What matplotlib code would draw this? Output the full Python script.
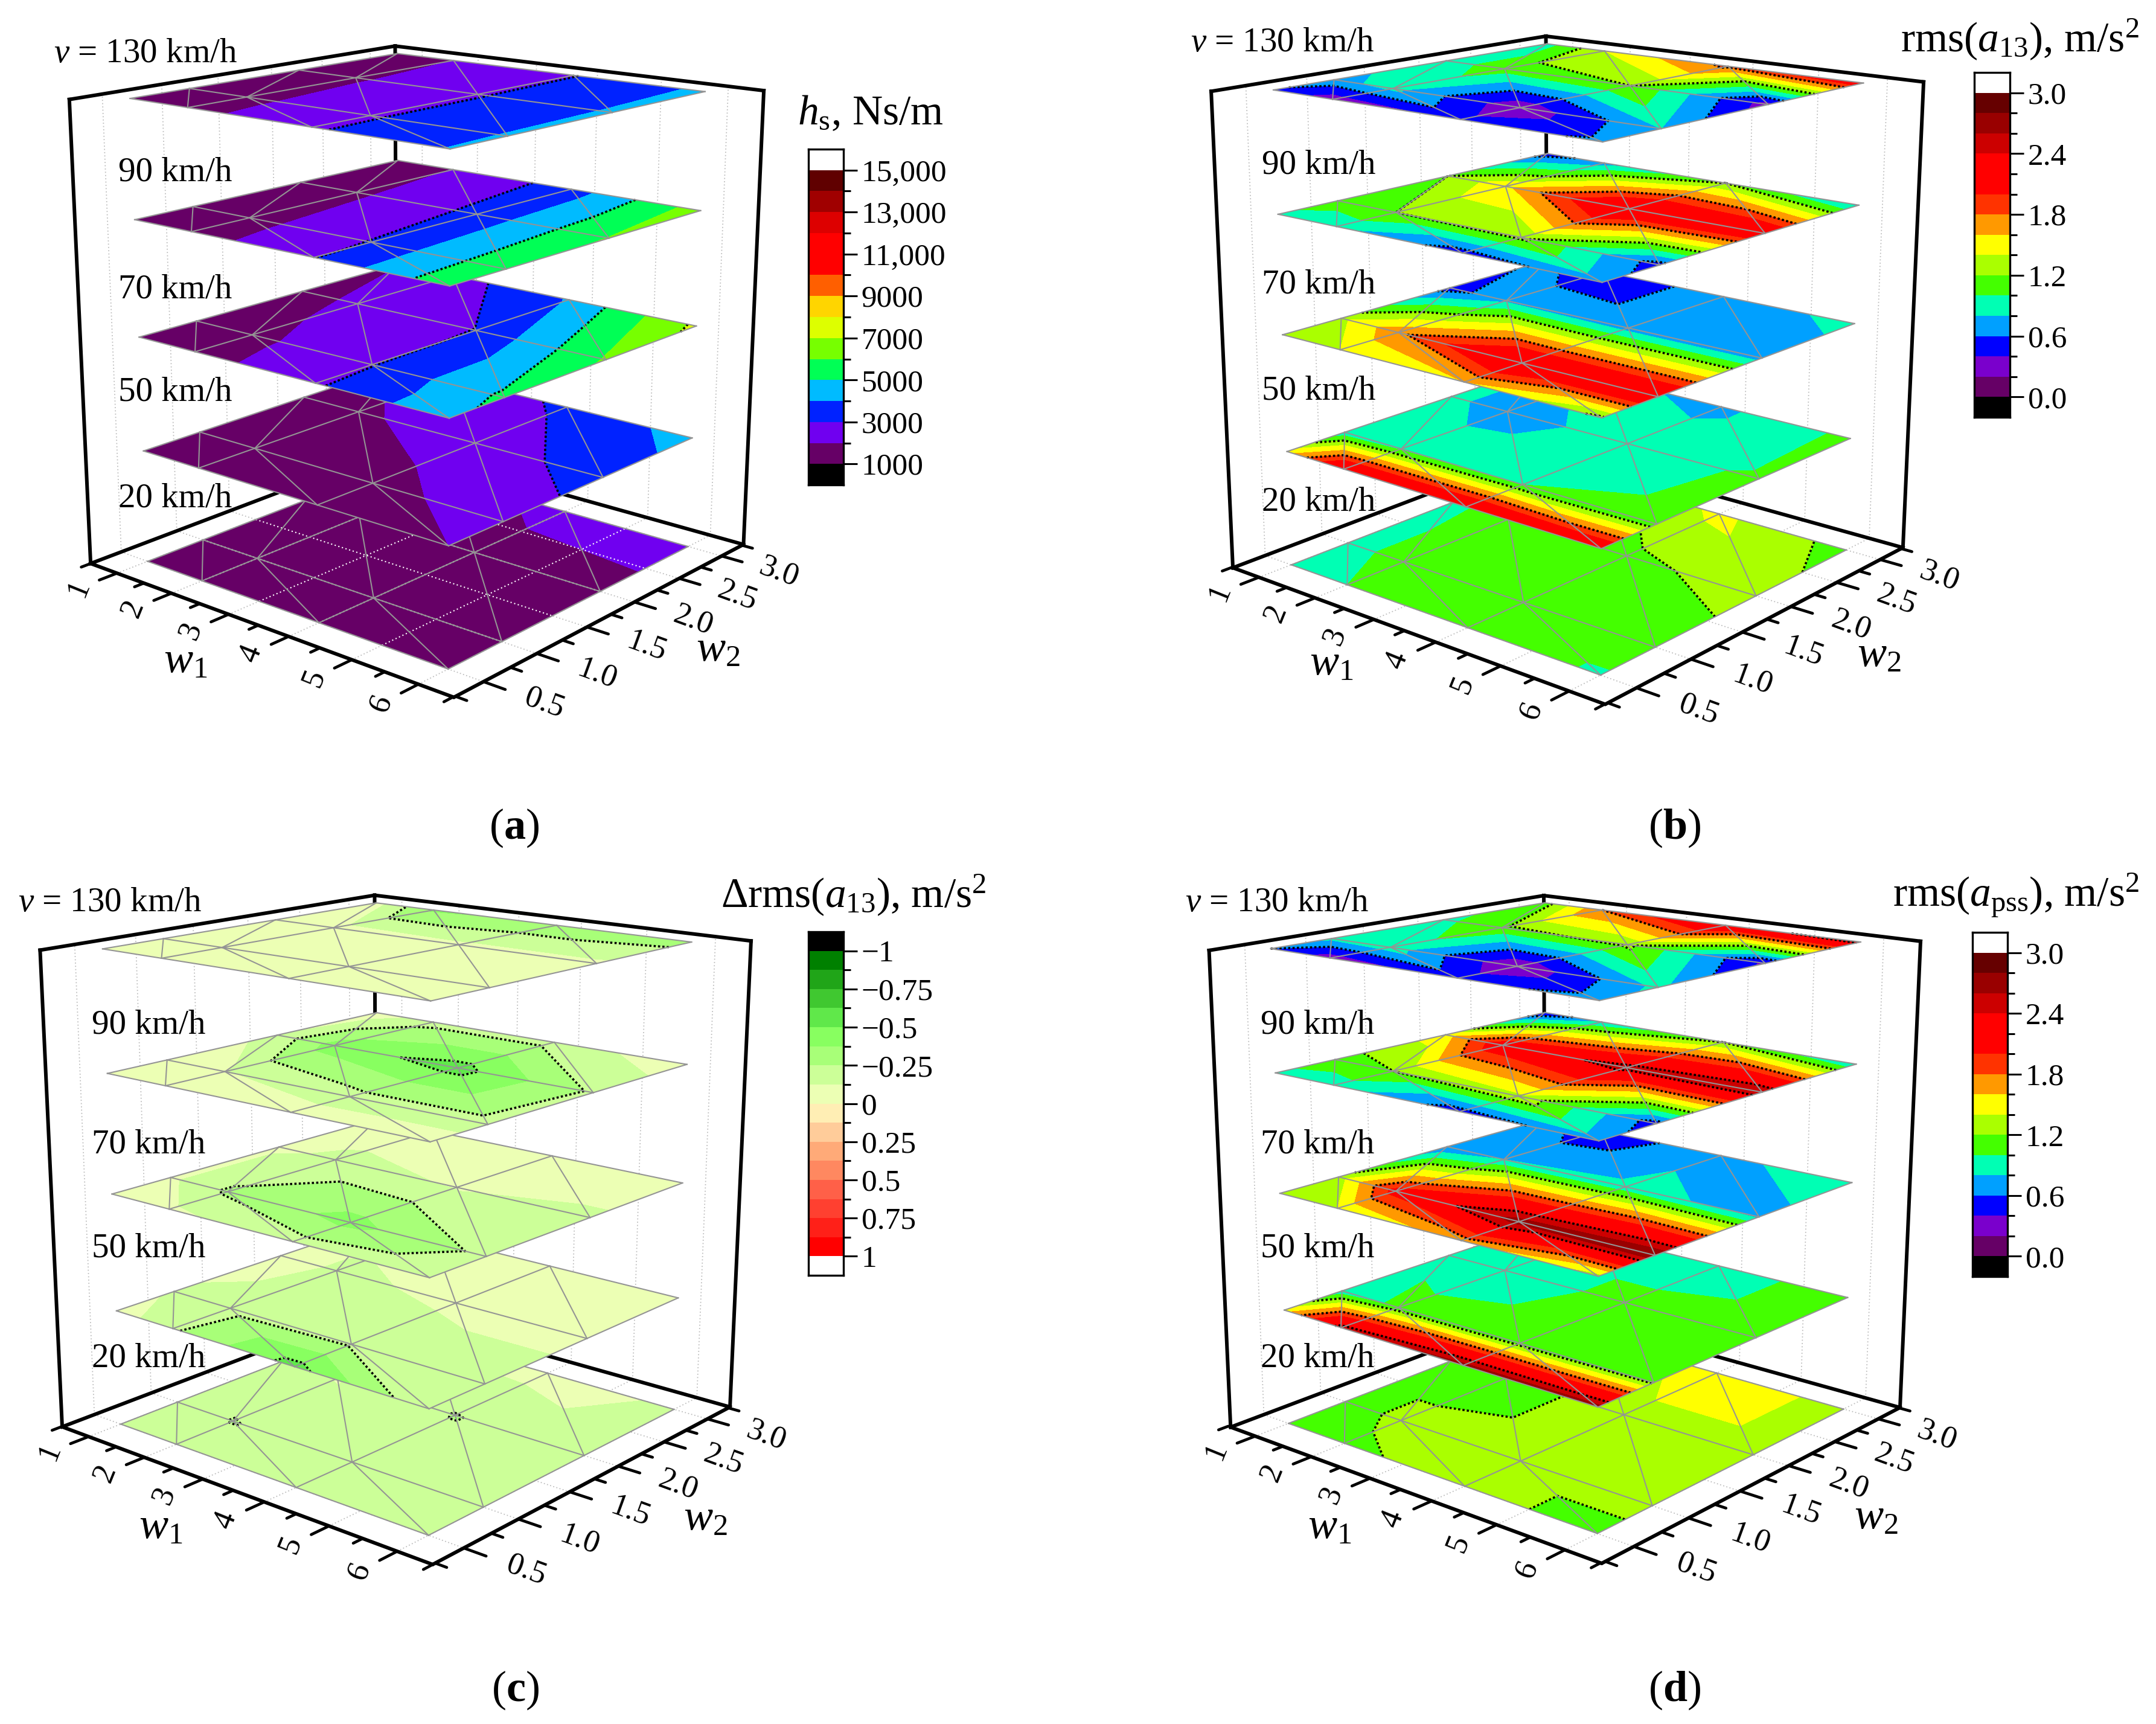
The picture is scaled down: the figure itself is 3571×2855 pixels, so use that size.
import numpy as np
import matplotlib
matplotlib.use('Agg')
import matplotlib.pyplot as plt
import matplotlib.tri as mtri
from matplotlib.colors import ListedColormap, BoundaryNorm
from mpl_toolkits.mplot3d import proj3d

plt.rcParams['font.family'] = 'Liberation Serif'
plt.rcParams['mathtext.fontset'] = 'custom'
plt.rcParams['mathtext.rm'] = 'Liberation Serif'
plt.rcParams['mathtext.it'] = 'Liberation Serif:italic'
plt.rcParams['mathtext.bf'] = 'Liberation Serif:bold'

W, H = 3571, 2855

w1_nodes = [1, 2, 4, 6]
w2_nodes = [0.5, 1, 2, 3]
speeds = ['20 km/h', '50 km/h', '70 km/h', '90 km/h', '$v$ = 130 km/h']
w1_ticks = [1, 2, 3, 4, 5, 6]
w1_minor = [0.5, 1.5, 2.5, 3.5, 4.5, 5.5, 6.5]
w2_ticks = [0.5, 1.0, 1.5, 2.0, 2.5, 3.0]
w2_minor = [0.25, 0.75, 1.25, 1.75, 2.25, 2.75, 3.25]

# rows are w1 = 1, 2, 4, 6, columns are w2 = 0.5, 1, 2, 3
hs_20 = [[1050, 1100, 1300, 1500], [1050, 1100, 1300, 1600], [1100, 1200, 1600, 2300], [1100, 1200, 1700, 2400]]
hs_50 = [[1100, 1150, 1500, 2300], [1200, 1300, 1850, 2400], [1450, 1650, 2500, 3150], [2000, 2500, 3400, 4400]]
hs_70 = [[1100, 1200, 1400, 1950], [1500, 1700, 2300, 2500], [2850, 2950, 3020, 4080], [4800, 5200, 6100, 7200]]
hs_90 = [[1200, 1200, 1300, 1400], [1450, 1600, 1800, 2020], [2950, 3050, 3250, 3450], [5700, 5800, 6050, 6500]]
hs_130 = [[1100, 1100, 1100, 1100], [1600, 1700, 1850, 2000], [2850, 2880, 2900, 2950], [4050, 4080, 4120, 4200]]

a13_20 = [[.95, .95, .95, 1.05], [1.0, 1.05, 1.1, 1.1], [1.1, 1.1, 1.15, 1.45], [.98, 1.09, 1.28, 1.12]]
a13_50 = [[1.5, .85, .85, .85], [2.35, .95, .7, .85], [2.38, 1.0, .9, .75], [2.3, 1.05, 1.03, 1.05]]
a13_70 = [[1.3, 1.35, .5, .65], [1.4, 1.75, .75, .45], [1.6, 2.4, .7, .7], [1.15, 2.4, .7, .85]]
a13_90 = [[.95, 1.1, 1.2, .5], [.85, 1.2, 1.55, .7], [.5, 1.25, 2.4, 1.2], [.7, .5, 2.3, .75]]
a13_130 = [[.55, .75, .9, .9], [.28, .85, 1.1, 1.4], [.45, .25, 1.2, 1.85], [.65, .8, .3, 2.2]]

da13_20 = [[-.18, -.18, -.17, -.15], [-.18, -.255, -.12, -.1], [-.18, -.18, -.255, -.08], [-.18, -.18, -.18, -.14]]
da13_50 = [[-.05, -.15, -.05, -.05], [-.23, -.2, -.15, -.08], [-.55, -.23, -.1, -.05], [-.15, -.17, -.1, -.05]]
da13_70 = [[-.03, -.1, -.1, -.05], [-.1, -.27, -.15, -.07], [-.2, -.42, -.12, -.03], [-.13, -.22, -.15, -.03]]
da13_90 = [[-.05, -.06, -.15, -.05], [-.05, -.12, -.44, -.2], [-.06, -.2, -.55, -.2], [-.05, -.2, -.23, -.05]]
da13_130 = [[-.04, -.05, -.06, -.08], [-.05, -.05, -.08, -.4], [-.05, -.06, -.1, -.35], [-.04, -.05, -.1, -.3]]

apss_20 = [[1.1, 1.1, 1.1, 1.1], [1.15, 1.25, 1.1, 1.1], [1.3, 1.3, 1.3, 1.6], [1.1, 1.3, 1.3, 1.3]]
apss_50 = [[1.5, .85, .95, .95], [2.5, 1.05, .9, .9], [2.7, 1.1, 1.05, .9], [2.7, 1.15, 1.1, 1.1]]
apss_70 = [[1.25, 1.3, .6, .7], [1.4, 2.1, .8, .45], [1.7, 2.7, .85, .75], [1.3, 2.8, .75, .9]]
apss_90 = [[.95, 1.1, 1.5, .4], [.9, 1.2, 2.2, .8], [.5, 1.35, 2.5, 1.2], [.7, .5, 2.6, .8]]
apss_130 = [[.6, .85, .95, 1.1], [.28, .9, 1.15, 1.8], [.5, .22, 1.25, 2.3], [.7, .85, .35, 2.5]]

# colour bands
rainbow14 = ['#660066', '#7000F0', '#0022FF', '#00BBFF', '#00FF55', '#77FF00', '#DDFF00',
             '#FFD500', '#FF5F00', '#FF0000', '#FF0000', '#DD0000', '#A00000', '#600000']
rainbow15 = ['#660066', '#7A00CC', '#0000FF', '#00A0FF', '#00FFB4', '#44FF00', '#AAFF00', '#FFFF00',
             '#FF9900', '#FF3300', '#FF0000', '#FF0000', '#CC0000', '#990000', '#660000']
greenred16 = ['#008000', '#20A518', '#40C830', '#60E84A', '#88FF60', '#A8FF78', '#CCFF98', '#ECFFB4',
              '#FFEEB4', '#FFCC9A', '#FFAA78', '#FF8860', '#FF6048', '#FF4030', '#FF2018', '#FF0000']

hs_bounds = np.arange(1000, 15001, 1000)
a_bounds = np.arange(0, 3.01, 0.2)
d_bounds = np.arange(-1, 1.01, 0.125)

panels = [
    dict(data=[hs_20, hs_50, hs_70, hs_90, hs_130], bounds=hs_bounds, colors=rainbow14,
         under='black', over='white', dotted=[3000, 5000, 7000, 9000],
         view=(15.777, -49.685, .484, 1.006, .998, .499, 6.512, .235, 3.269), place=(7180.1, 697.1, 549.0),
         bar=(1339, 1397, 247, 803), ticks=list(range(1000, 15001, 2000)),
         ticklabels=['1000', '3000', '5000', '7000', '9000', '11,000', '13,000', '15,000'],
         title=r'$h_{\rm s}$, Ns/m', title_xy=(1442, 189), inverted=False,
         vx=89, v130y=89, labelx=196, labely=[825, 650, 479, 285], w1xy=(307, 1096), w2xy=(1189, 1077),
         tag='a', tagxy=(852, 1371)),
    dict(data=[a13_20, a13_50, a13_70, a13_90, a13_130], bounds=a_bounds, colors=rainbow15,
         under='black', over='white', dotted=[.6, 1.2, 1.8, 2.4],
         view=(15.758, -49.720, .487, 1.004, 1.000, .519, 6.506, .227, 3.273), place=(7369.0, 2603.6, 545.3),
         bar=(3270, 3329, 120, 691), ticks=[0, .6, 1.2, 1.8, 2.4, 3.0],
         ticklabels=['0.0', '0.6', '1.2', '1.8', '2.4', '3.0'],
         title=r'rms($a_{13}$), m/s$^2$', title_xy=(3345, 66), inverted=False,
         vx=1972, v130y=71, labelx=2090, labely=[832, 647, 472, 274], w1xy=(2205, 1100), w2xy=(3112, 1086),
         tag='b', tagxy=(2774, 1371)),
    dict(data=[da13_20, da13_50, da13_70, da13_90, da13_130], bounds=d_bounds, colors=greenred16,
         under='black', over='white', dotted=[-.75, -.5, -.25, .25, .5, .75],
         view=(15.860, -49.629, .481, 1.000, .996, .509, 6.499, .228, 3.271), place=(7357.5, 662.6, 1968.2),
         bar=(1339, 1397, 1543, 2112), ticks=list(np.arange(-1, 1.01, .25)),
         ticklabels=['\u22121', '\u22120.75', '\u22120.5', '\u22120.25', '0', '0.25', '0.5', '0.75', '1'],
         title=r'$\Delta$rms($a_{13}$), m/s$^2$', title_xy=(1414, 1483), inverted=True,
         vx=30, v130y=1495, labelx=152, labely=[2250, 2068, 1895, 1697], w1xy=(266, 2530), w2xy=(1168, 2516),
         tag='c', tagxy=(854, 2799)),
    dict(data=[apss_20, apss_50, apss_70, apss_90, apss_130], bounds=a_bounds, colors=rainbow15,
         under='black', over='white', dotted=[.6, 1.2, 1.8, 2.4],
         view=(15.717, -49.611, .489, 1.002, .998, .545, 6.516, .219, 3.260), place=(7364.4, 2599.1, 1968.5),
         bar=(3267, 3325, 1544, 2114), ticks=[0, .6, 1.2, 1.8, 2.4, 3.0],
         ticklabels=['0.0', '0.6', '1.2', '1.8', '2.4', '3.0'],
         title=r'rms($a_{\rm pss}$), m/s$^2$', title_xy=(3339, 1483), inverted=False,
         vx=1963, v130y=1495, labelx=2088, labely=[2250, 2068, 1895, 1697], w1xy=(2202, 2530), w2xy=(3107, 2514),
         tag='d', tagxy=(2774, 2799)),
]


def build_tri():
    xx, yy = np.meshgrid(w1_nodes, w2_nodes, indexing='ij')
    tris = []
    n = len(w2_nodes)
    for i in range(len(w1_nodes) - 1):
        for j in range(n - 1):
            a, b, c, d = i*n + j, (i+1)*n + j, (i+1)*n + j + 1, i*n + j + 1
            # all cells are split along the same diagonal
            tris.append([a, b, d])
            tris.append([b, c, d])
    return mtri.Triangulation(xx.ravel(), yy.ravel(), tris)


def draw_panel(fig, tri, p):
    elev, azim, focal, asp_x, asp_y, xlo, xhi, ylo, yhi = p['view']
    ax = fig.add_axes([0, 0, .3, .3], projection='3d', computed_zorder=False)
    ax.set_proj_type('persp', focal_length=focal)
    ax.view_init(elev, azim)
    ax.set_box_aspect((asp_x, asp_y, 1))
    ax.patch.set_alpha(0)

    cmap = ListedColormap(p['colors']).with_extremes(under=p['under'], over=p['over'])
    norm = BoundaryNorm(p['bounds'], len(p['colors']))

    # back walls and floor
    dot = dict(color='#bdbdbd', lw=1.3, ls=(0, (1, 2)), zorder=1)
    for t in w1_ticks:
        ax.plot([t, t], [ylo, yhi], [0, 0], **dot)
        ax.plot([t, t], [yhi, yhi], [0, 4], **dot)
    for t in w2_ticks:
        ax.plot([xlo, xhi], [t, t], [0, 0], **dot)
        ax.plot([xlo, xlo], [t, t], [0, 4], **dot)
    box = dict(color='black', lw=4.3, zorder=2, solid_capstyle='projecting')
    ax.plot([xlo, xlo], [ylo, yhi], [0, 0], **box)
    ax.plot([xlo, xhi], [yhi, yhi], [0, 0], **box)
    ax.plot([xlo, xlo], [ylo, ylo], [0, 4], **box)
    ax.plot([xlo, xlo], [yhi, yhi], [0, 4], **box)
    ax.plot([xhi, xhi], [yhi, yhi], [0, 4], **box)
    ax.plot([xlo, xlo], [ylo, yhi], [4, 4], **box)
    ax.plot([xlo, xhi], [yhi, yhi], [4, 4], **box)

    # the five speed levels, bottom one first
    for k, values in enumerate(p['data']):
        z = np.asarray(values, float).ravel()
        base = 10 + 10*k
        ax.tricontourf(tri, z, levels=p['bounds'], cmap=cmap, norm=norm, extend='both',
                       zdir='z', offset=k, zorder=base, antialiased=False)
        inside = [v for v in p['dotted'] if z.min() < v < z.max()]
        if inside:
            ax.tricontour(tri, z, levels=inside, colors='black', linewidths=2.6,
                          linestyles=[(0, (1, 1))], zdir='z', offset=k, zorder=base + 2)
        for e0, e1 in tri.edges:
            ax.plot(tri.x[[e0, e1]], tri.y[[e0, e1]], [k, k], color='#949494', lw=1.5, zorder=base + 3)
        if k == 0 and p['tag'] == 'a':
            for t in w1_ticks[1:-1]:
                ax.plot([t, t], [.5, 3], [0, 0], color='white', lw=1.5, ls=(0, (1, 2)), zorder=base + 1)
            for t in w2_ticks[1:-1]:
                ax.plot([1, 6], [t, t], [0, 0], color='white', lw=1.5, ls=(0, (1, 2)), zorder=base + 1)

    # front axes and ticks on the floor
    front = dict(color='black', zorder=90, solid_capstyle='round')
    ax.plot([xlo, xhi], [ylo, ylo], [0, 0], lw=4.3, **front)
    ax.plot([xhi, xhi], [ylo, yhi], [0, 0], lw=4.3, **front)
    for t in w1_ticks:
        ax.plot([t, t], [ylo, ylo - .15], [0, 0], lw=3.4, **front)
    for t in w1_minor:
        ax.plot([t, t], [ylo, ylo - .08], [0, 0], lw=3.4, **front)
    for t in w2_ticks:
        ax.plot([xhi, xhi + .31], [t, t], [0, 0], lw=3.4, **front)
    for t in w2_minor:
        ax.plot([xhi, xhi + .16], [t, t], [0, 0], lw=3.4, **front)

    ax.set_xlim(xlo, xhi, view_margin=0)
    ax.set_ylim(ylo, yhi, view_margin=0)
    ax.set_zlim(0, 4, view_margin=0)
    ax.set_axis_off()

    # put the square axes where its projection lands on the page
    s, tx, ty = p['place']
    x0, x1 = ax.viewLim.intervalx
    y0, y1 = ax.viewLim.intervaly
    left, right = tx + s*x0, tx + s*x1
    bottom, top = ty - s*y0, ty - s*y1
    ax.set_position([left/W, 1 - bottom/H, (right - left)/W, (bottom - top)/H])

    # tick labels, placed through the projection of the 3d axes
    M = ax.get_proj()

    def floor_text(x, y, label, rot):
        xs, ys, _ = proj3d.proj_transform(x, y, 0, M)
        fig.text((tx + s*xs)/W, 1 - (ty - s*ys)/H, label, rotation=rot, fontsize=38,
                 ha='center', va='center', rotation_mode='anchor')

    for t in w1_ticks:
        floor_text(t, ylo - .32, str(t), 68)
    for t in w2_ticks:
        floor_text(xhi + .85, t, '%.1f' % t, -20)

    # colour bar
    bx0, bx1, by0, by1 = p['bar']
    cax = fig.add_axes([bx0/W, 1 - by1/H, (bx1 - bx0)/W, (by1 - by0)/H])
    bounds = np.asarray(p['bounds'], float)
    step = bounds[1] - bounds[0]
    edges = np.r_[bounds[0] - step, bounds, bounds[-1] + step]
    mids = (edges[:-1] + edges[1:])/2
    cax.pcolormesh([0, 1], edges, mids[:, None], cmap=cmap, norm=norm)
    cax.set_ylim(edges[-1], edges[0]) if p['inverted'] else cax.set_ylim(edges[0], edges[-1])
    cax.set_xticks([])
    cax.yaxis.tick_right()
    cax.set_yticks(p['ticks'])
    cax.set_yticklabels(p['ticklabels'])
    cax.set_yticks([b for b in bounds if not np.any(np.isclose(b, p['ticks']))], minor=True)
    cax.tick_params(axis='y', which='major', length=16.5, width=2.2, labelsize=37, pad=5)
    cax.tick_params(axis='y', which='minor', length=8.5, width=2.2)
    for sp in cax.spines.values():
        sp.set_linewidth(2.4)

    # texts
    fig.text(p['title_xy'][0]/W, 1 - p['title_xy'][1]/H, p['title'], fontsize=50, ha='center', va='center')
    fig.text(p['vx']/W, 1 - p['v130y']/H, speeds[4], fontsize=41, ha='left', va='center')
    for name, yy in zip(speeds[:4], p['labely']):
        fig.text(p['labelx']/W, 1 - yy/H, name, fontsize=41, ha='left', va='center')
    fig.text(p['w1xy'][0]/W, 1 - p['w1xy'][1]/H, '$w_1$', fontsize=52, ha='center', va='center')
    fig.text(p['w2xy'][0]/W, 1 - p['w2xy'][1]/H, '$w_2$', fontsize=52, ha='center', va='center')
    fig.text(p['tagxy'][0]/W, 1 - p['tagxy'][1]/H, r'($\mathbf{%s}$)' % p['tag'], fontsize=52,
             ha='center', va='center')


fig = plt.figure(figsize=(W/100, H/100), dpi=100)
tri = build_tri()
for p in panels:
    draw_panel(fig, tri, p)
fig.savefig('out.png', dpi=100)
